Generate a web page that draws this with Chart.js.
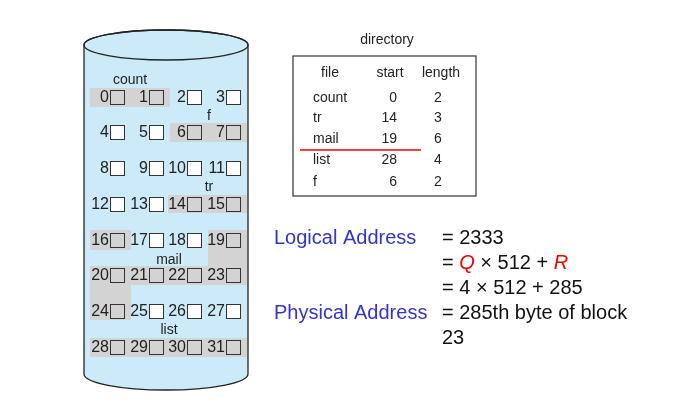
<!DOCTYPE html>
<html><head><meta charset="utf-8">
<script src="https://cdn.jsdelivr.net/npm/chart.js@4"></script>
<style>html,body{margin:0;background:#fff}#wrap{width:688px;height:405px}</style>
</head><body><div id="wrap"><canvas id="c"></canvas></div>
<script>
// disk blocks 0..31 in 4 columns
const blockCols = [110, 149, 187, 226];
const blockRows = [97, 132, 168, 204, 240, 275, 311, 347];
// shaded extents per file: [x0, y0, x1, y1]
const shadeRects = [
  [90, 88, 170, 107],   // count 0-1
  [170, 123, 247, 142], // f 6-7
  [168, 195, 247, 213], // tr 14-15
  [90, 230, 131, 250],  // tr 16
  [208, 230, 247, 266], // mail 19
  [90, 266, 247, 285],  // mail 20-23
  [90, 285, 131, 320],  // mail 24
  [90, 338, 247, 357]   // list 28-31
];
const fileLabels = [['count', 130, 80], ['f', 209, 116], ['tr', 209, 187], ['mail', 169, 260], ['list', 169, 330]];
const dirFiles = ['count', 'tr', 'mail', 'list', 'f'];
const dirStart = [0, 14, 19, 28, 6];
const dirLength = [2, 3, 6, 4, 2];
const dirRowsY = [98, 118, 139, 160, 182];
const calcLeft = ['Logical Address', '', '', 'Physical Address', ''];
const calcRight = ['= 2333', null, '= 4 \u00d7 512 + 285', '= 285th byte of block', '23'];
const calcY = [238, 263, 288, 313, 338];

const used = new Set();
dirStart.forEach((s, i) => { for (let k = 0; k < dirLength[i]; k++) used.add(s + k); });

const diagram = {
  id: 'diagram',
  afterDraw(chart) {
    const { ctx, scales: { x, y } } = chart;
    const X = v => x.getPixelForValue(v), Y = v => y.getPixelForValue(v);
    ctx.save();
    // cylinder
    const cl = X(84), cr = X(248), cx = (cl + cr) / 2, rx = (cr - cl) / 2;
    ctx.fillStyle = '#cdeaf8'; ctx.strokeStyle = '#222'; ctx.lineWidth = 1.3;
    ctx.beginPath();
    ctx.moveTo(cl, Y(45)); ctx.lineTo(cl, Y(374));
    ctx.ellipse(cx, Y(374), rx, Y(390) - Y(374), 0, Math.PI, 0, true);
    ctx.lineTo(cr, Y(45));
    ctx.ellipse(cx, Y(45), rx, Y(45) - Y(30), 0, 0, Math.PI, true);
    ctx.closePath(); ctx.fill(); ctx.stroke();
    ctx.beginPath(); ctx.ellipse(cx, Y(45), rx, Y(45) - Y(30), 0, 0, Math.PI * 2); ctx.stroke();
    // shading
    ctx.fillStyle = '#d3d3d3';
    shadeRects.forEach(r => ctx.fillRect(X(r[0]), Y(r[1]), X(r[2]) - X(r[0]), Y(r[3]) - Y(r[1])));
    // blocks
    ctx.font = '16px Arial'; ctx.textAlign = 'right'; ctx.textBaseline = 'middle';
    for (let b = 0; b < 32; b++) {
      const bx = X(blockCols[b % 4]), by = Y(blockRows[Math.floor(b / 4)]);
      ctx.fillStyle = used.has(b) ? '#d3d3d3' : '#fff';
      ctx.fillRect(bx, by - 7, 14, 14);
      ctx.strokeStyle = '#333'; ctx.lineWidth = 1; ctx.strokeRect(bx + 0.5, by - 6.5, 14, 14);
      ctx.fillStyle = '#222'; ctx.fillText(String(b), bx - 1, by + 1);
    }
    ctx.textAlign = 'center'; ctx.font = '14px Arial';
    fileLabels.forEach(l => ctx.fillText(l[0], X(l[1]), Y(l[2])));
    // directory
    ctx.fillText('directory', X(387), Y(40));
    ctx.lineWidth = 1.2; ctx.strokeRect(X(293), Y(56), X(476) - X(293), Y(196) - Y(56));
    ctx.font = '14px Arial';
    ctx.fillText('file', X(330), Y(73));
    ctx.fillText('start', X(390), Y(73));
    ctx.fillText('length', X(441), Y(73));
    dirFiles.forEach((f, i) => {
      ctx.textAlign = 'left'; ctx.fillText(f, X(313), Y(dirRowsY[i]));
      ctx.textAlign = 'right'; ctx.fillText(String(dirStart[i]), X(397), Y(dirRowsY[i]));
      ctx.textAlign = 'center'; ctx.fillText(String(dirLength[i]), X(438), Y(dirRowsY[i]));
    });
    ctx.strokeStyle = '#e00'; ctx.lineWidth = 1.3;
    ctx.beginPath(); ctx.moveTo(X(300), Y(150)); ctx.lineTo(X(421), Y(150)); ctx.stroke();
    // address calc
    const f = '20px Arial';
    ctx.font = f; ctx.textAlign = 'left';
    calcY.forEach((cy, i) => {
      ctx.fillStyle = '#3333cc'; ctx.fillText(calcLeft[i], X(274), Y(cy));
      ctx.fillStyle = '#111';
      if (calcRight[i] !== null) { ctx.fillText(calcRight[i], X(442), Y(cy)); return; }
      let px = X(442);
      const parts = [['= ', '#111', f], ['Q', '#e00', 'italic ' + f], [' \u00d7 512 + ', '#111', f], ['R', '#e00', 'italic ' + f]];
      parts.forEach(p => { ctx.font = p[2]; ctx.fillStyle = p[1]; ctx.fillText(p[0], px, Y(cy)); px += ctx.measureText(p[0]).width; });
      ctx.font = f;
    });
    ctx.restore();
  }
};

new Chart(document.getElementById('c'), {
  type: 'scatter',
  data: { datasets: [{ data: [], pointRadius: 0 }] },
  options: {
    responsive: true, maintainAspectRatio: false, animation: false,
    layout: { padding: 0 },
    plugins: { legend: { display: false }, tooltip: { enabled: false } },
    scales: {
      x: { type: 'linear', min: 0, max: 688, display: false },
      y: { type: 'linear', min: 0, max: 405, reverse: true, display: false }
    }
  },
  plugins: [diagram]
});
</script></body></html>
